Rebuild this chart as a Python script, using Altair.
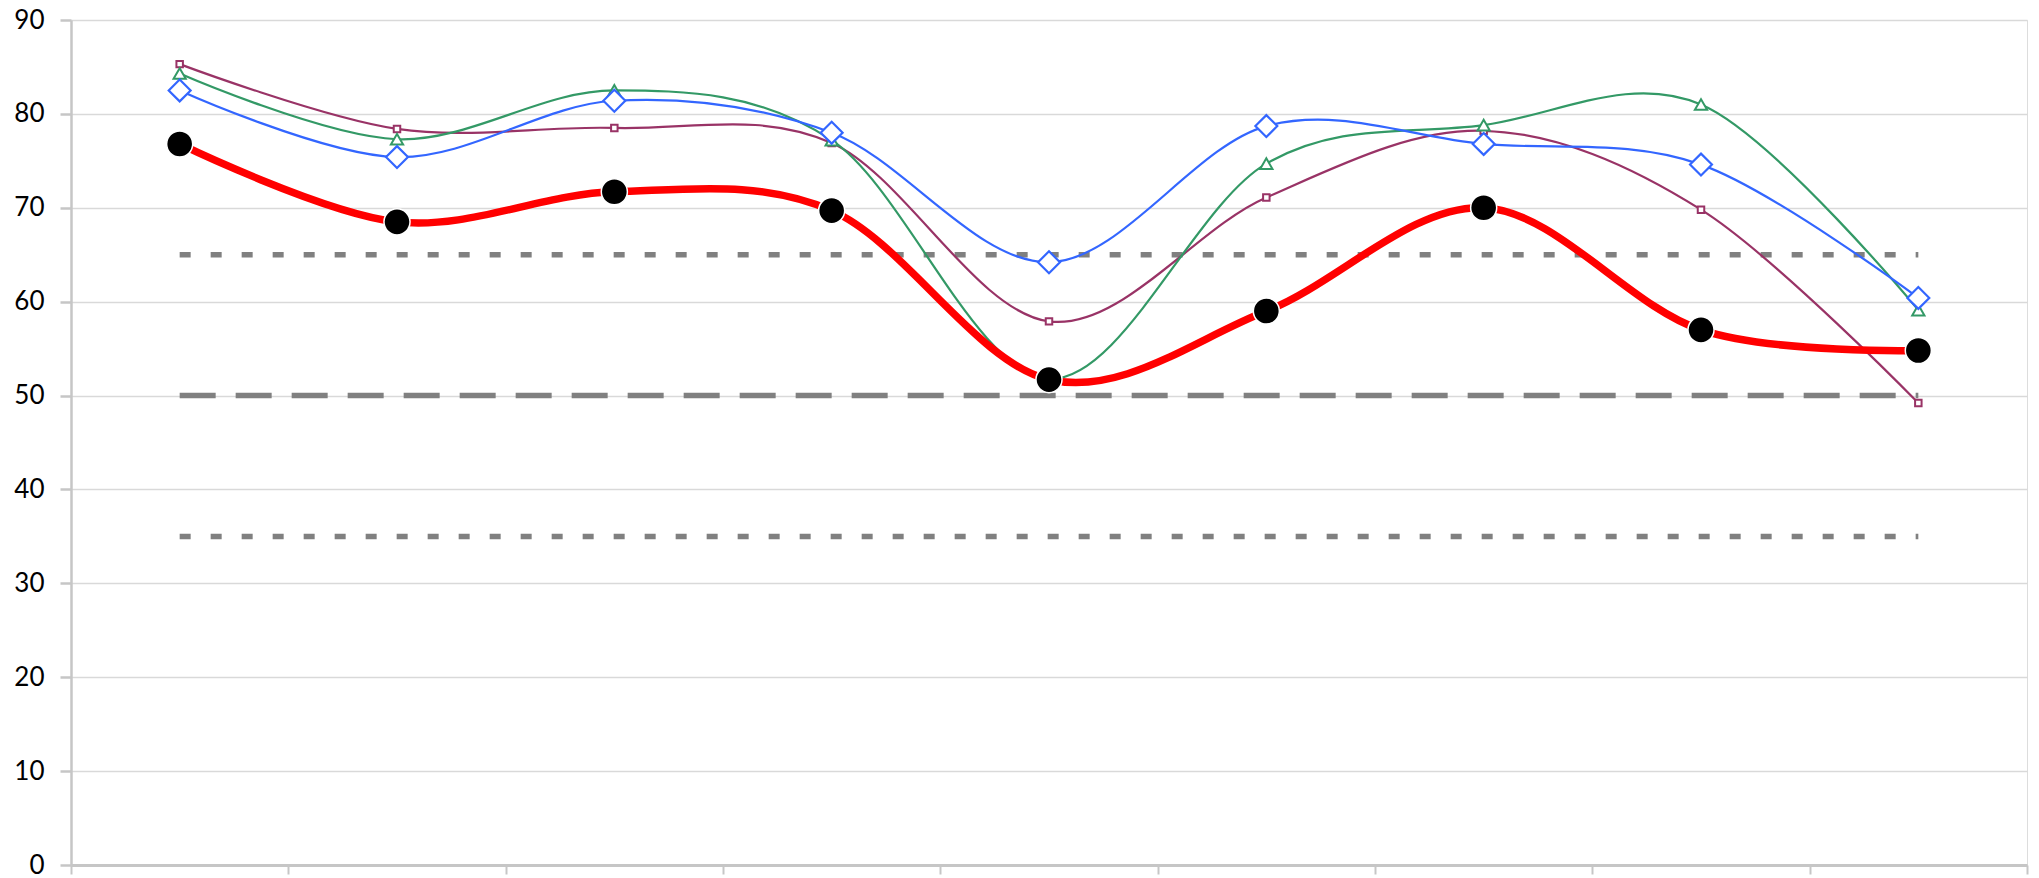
import altair as alt
import pandas as pd

# ---- data ----
categories = [1, 2, 3, 4, 5, 6, 7, 8, 9]
red_values = [76.8, 68.5, 71.7, 69.7, 51.7, 59.0, 70.0, 57.0, 54.8]
blue_values = [82.5, 75.4, 81.4, 78.0, 64.2, 78.7, 76.8, 74.6, 60.4]
green_values = [84.3, 77.3, 82.5, 77.2, 51.8, 74.7, 78.8, 81.0, 59.1]
purple_values = [85.3, 78.4, 78.5, 76.9, 57.9, 71.1, 78.2, 69.8, 49.2]

ref_levels = [65, 50, 35]
ref_kinds = ["dotted", "dashed", "dotted"]
ref_start = [1, 1, 1]
ref_end = [9, 9, 9]

y_ticks = [0, 10, 20, 30, 40, 50, 60, 70, 80, 90]
x_ticks = [0.5, 1.5, 2.5, 3.5, 4.5, 5.5, 6.5, 7.5, 8.5, 9.5]


def series_df(values):
    return pd.DataFrame({"cat": categories, "val": values})


ref_df = pd.DataFrame({"y": ref_levels, "kind": ref_kinds, "x1": ref_start, "x2": ref_end})

x_scale = alt.Scale(domain=[0.5, 9.5], nice=False, zero=False)
y_scale = alt.Scale(domain=[0, 90], nice=False, zero=True)

x_enc = alt.X(
    "cat:Q",
    scale=x_scale,
    axis=alt.Axis(
        values=x_ticks, labels=False, grid=False, ticks=True, tickSize=9,
        tickColor="#C6C6C6", tickWidth=2, domainColor="#C6C6C6", domainWidth=3,
        title=None,
    ),
)
y_enc = alt.Y(
    "val:Q",
    scale=y_scale,
    axis=alt.Axis(
        values=y_ticks, grid=True, gridColor="#D9D9D9", gridWidth=1.5,
        tickSize=11, tickColor="#C6C6C6", tickWidth=2.5,
        domainColor="#C6C6C6", domainWidth=2.5,
        labelFont="Lato", labelFontSize=26, labelColor="#000000",
        labelPadding=16, title=None,
    ),
)

layers = []

dotted = alt.Chart(ref_df).transform_filter("datum.kind == 'dotted'").mark_rule(
    color="#808080", strokeWidth=5.5, strokeDash=[11, 20], strokeCap="butt"
).encode(
    x=alt.X("x1:Q", scale=x_scale),
    x2="x2:Q",
    y=alt.Y("y:Q", scale=y_scale),
)
dashed = alt.Chart(ref_df).transform_filter("datum.kind == 'dashed'").mark_rule(
    color="#808080", strokeWidth=5.5, strokeDash=[36, 20], strokeCap="butt"
).encode(
    x=alt.X("x1:Q", scale=x_scale),
    x2="x2:Q",
    y=alt.Y("y:Q", scale=y_scale),
)

base_axes = alt.Chart(series_df(red_values)).mark_point(opacity=0).encode(x=x_enc, y=y_enc)
layers += [base_axes, dotted, dashed]


def series_layers(values, color, width, shape, size, fill, stroke, stroke_w):
    d = series_df(values)
    line = alt.Chart(d).mark_line(
        color=color, strokeWidth=width, interpolate="cardinal"
    ).encode(x="cat:Q", y="val:Q")
    pts = alt.Chart(d).mark_point(
        shape=shape, size=size, filled=True, fill=fill, stroke=stroke,
        strokeWidth=stroke_w, opacity=1, fillOpacity=1, strokeOpacity=1,
    ).encode(x="cat:Q", y="val:Q")
    return [line, pts]


layers += series_layers(purple_values, "#993366", 2.2, "square", 42, "#FFFFFF", "#993366", 2)
layers += series_layers(green_values, "#339966", 2.2, "triangle-up", 150, "#FFFFFF", "#339966", 2)
layers += series_layers(blue_values, "#3366FF", 2.2, "diamond", 480, "#FFFFFF", "#3366FF", 2.2)
layers += series_layers(red_values, "#FF0000", 7.5, "circle", 680, "#000000", "#FFFFFF", 1.5)

chart = alt.layer(*layers).properties(
    width=1956,
    height=845,
    autosize=alt.AutoSizeParams(type="none"),
    padding={"left": 63, "top": 12, "right": 4, "bottom": 12},
).configure_view(stroke=None).configure(background="#FFFFFF")

chart.save("out.html", embed_options={"renderer": "svg", "actions": False})
